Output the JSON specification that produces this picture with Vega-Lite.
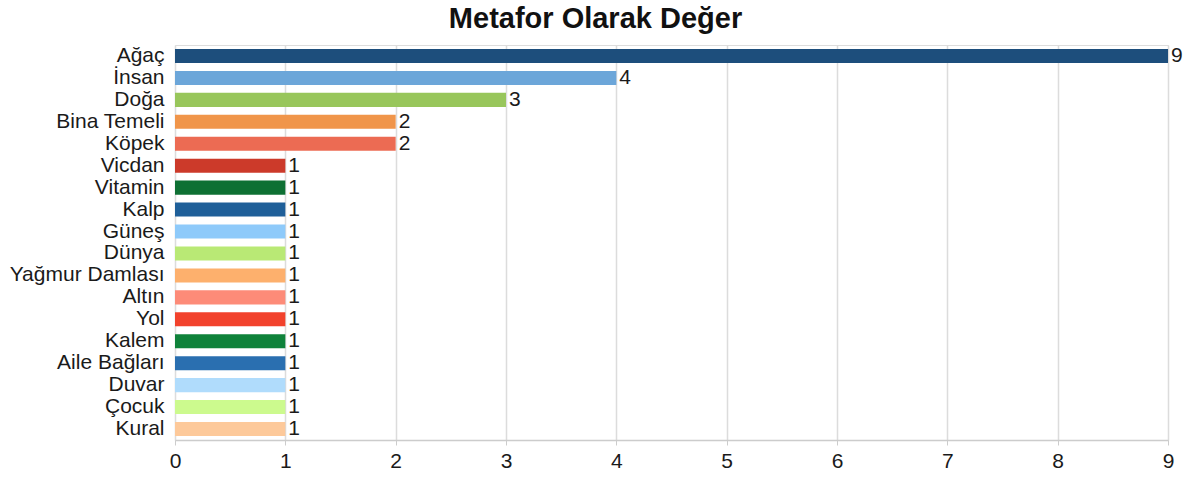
{
  "$schema": "https://vega.github.io/schema/vega-lite/v6.json",
  "autosize": {"type": "none"},
  "width": 993,
  "height": 395,
  "padding": {"left": 175, "top": 45, "right": 23, "bottom": 41},
  "background": "white",
  "title": {
    "text": "Metafor Olarak Değer",
    "font": "Liberation Sans",
    "fontSize": 29,
    "fontWeight": "bold",
    "color": "#111111",
    "anchor": "middle",
    "dx": -76,
    "offset": 10
  },
  "data": {
    "values": [
      {"label": "Ağaç", "value": 9, "color": "#1d4e7c"},
      {"label": "İnsan", "value": 4, "color": "#6ca6d9"},
      {"label": "Doğa", "value": 3, "color": "#98c65b"},
      {"label": "Bina Temeli", "value": 2, "color": "#f0954a"},
      {"label": "Köpek", "value": 2, "color": "#ec6b53"},
      {"label": "Vicdan", "value": 1, "color": "#cc3a2a"},
      {"label": "Vitamin", "value": 1, "color": "#0e7033"},
      {"label": "Kalp", "value": 1, "color": "#1f5f99"},
      {"label": "Güneş", "value": 1, "color": "#8ecafa"},
      {"label": "Dünya", "value": 1, "color": "#b9e975"},
      {"label": "Yağmur Damlası", "value": 1, "color": "#fdb06d"},
      {"label": "Altın", "value": 1, "color": "#fd8b78"},
      {"label": "Yol", "value": 1, "color": "#f2422c"},
      {"label": "Kalem", "value": 1, "color": "#0f823a"},
      {"label": "Aile Bağları", "value": 1, "color": "#2a6fb0"},
      {"label": "Duvar", "value": 1, "color": "#b0dcfc"},
      {"label": "Çocuk", "value": 1, "color": "#ccfa8e"},
      {"label": "Kural", "value": 1, "color": "#fdc99a"}
    ]
  },
  "encoding": {
    "y": {
      "field": "label",
      "type": "nominal",
      "sort": null,
      "title": null,
      "scale": {"paddingInner": 0.36, "paddingOuter": 0.18},
      "axis": {
        "ticks": false,
        "domain": false,
        "labelFont": "Liberation Sans",
        "labelFontSize": 21,
        "labelColor": "#1a1a1a",
        "labelPadding": 11
      }
    },
    "x": {
      "field": "value",
      "type": "quantitative",
      "title": null,
      "scale": {"domain": [0, 9], "nice": false},
      "axis": {
        "values": [0, 1, 2, 3, 4, 5, 6, 7, 8, 9],
        "grid": true,
        "gridColor": "#dcdcdc",
        "gridWidth": 1.5,
        "domainColor": "#cccccc",
        "domainWidth": 1.5,
        "tickColor": "#cccccc",
        "tickSize": 5,
        "labelFont": "Liberation Sans",
        "labelFontSize": 21,
        "labelColor": "#1a1a1a",
        "labelPadding": 5,
        "labelFlush": false
      }
    }
  },
  "layer": [
    {
      "mark": {"type": "bar"},
      "encoding": {
        "color": {"field": "color", "type": "nominal", "scale": null, "legend": null}
      }
    },
    {
      "mark": {
        "type": "text",
        "align": "left",
        "baseline": "middle",
        "dx": 3,
        "font": "Liberation Sans",
        "fontSize": 21,
        "color": "#1a1a1a"
      },
      "encoding": {
        "text": {"field": "value", "type": "quantitative"}
      }
    }
  ]
}
